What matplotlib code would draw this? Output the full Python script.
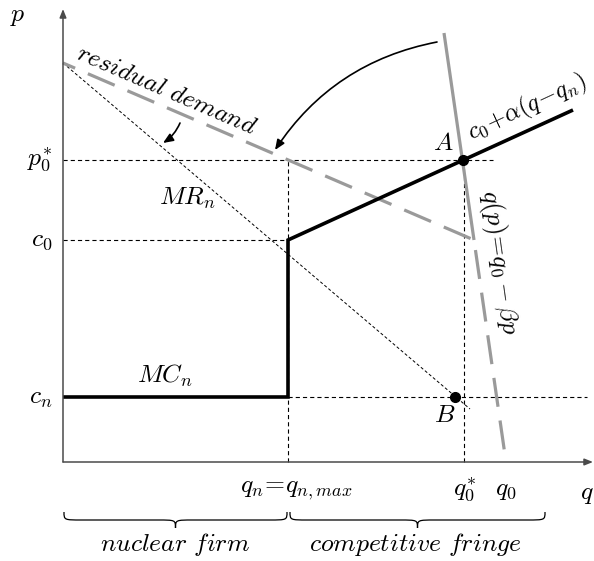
import matplotlib
matplotlib.use("Agg")
import matplotlib.pyplot as plt
from matplotlib.path import Path
from matplotlib.patches import PathPatch, FancyArrowPatch

plt.rcParams["mathtext.fontset"] = "cm"
plt.rcParams["font.family"] = ["DejaVu Serif"]
plt.rcParams["lines.scale_dashes"] = False

# key quantities (q on horizontal axis, p on vertical axis)
q_n = 2.25
q0_star = 4.01
q0 = 4.43
c_n = 0.65
c_0 = 2.22
p0_star = 3.02
p_max = 3.99

# curves
resid_q = [0, 4.11, 4.43]
resid_p = [p_max, 2.22, 0]
fringe_q = [3.81, 4.11]
fringe_p = [4.29, 2.22]
mr_q = [0, 4.07]
mr_p = [p_max, 0.53]
mc_q = [0, q_n, q_n, 5.10]
mc_p = [c_n, c_n, c_0, 3.52]
point_A = (4.00, p0_star)
point_B = (3.92, c_n)

GRAY = "#9a9a9a"
AXIS = "#4a4a4a"
FS = 18.5

fig = plt.figure(figsize=(5.94, 5.61), dpi=100)
ax = fig.add_axes([0, 0, 1, 1])
ax.set_xlim(-0.63, 5.31)
ax.set_ylim(-0.99, 4.62)
ax.axis("off")

# axes with arrows
for start, end in [((0, 0), (5.30, 0)), ((0, 0), (0, 4.53))]:
    ax.annotate("", xy=end, xytext=start,
                arrowprops=dict(arrowstyle="-|>,head_length=0.5,head_width=0.2",
                                color=AXIS, lw=1.1, shrinkA=0, shrinkB=0))

# thin dashed guide lines
guide = dict(color="black", lw=0.8, linestyle=(0, (3, 2.2)))
ax.plot([0, 4.30], [p0_star, p0_star], **guide)
ax.plot([0, q_n], [c_0, c_0], **guide)
ax.plot([q_n, 5.24], [c_n, c_n], **guide)
ax.plot([q_n, q_n], [0, p0_star], **guide)
ax.plot([q0_star, q0_star], [0, p0_star], **guide)

# marginal revenue
ax.plot(mr_q, mr_p, color="black", lw=0.7, linestyle=(0, (2.2, 1.6)))

# fringe supply (solid gray) and residual demand (dashed gray)
ax.plot(fringe_q, fringe_p, color=GRAY, lw=2.3, solid_capstyle="butt")
ax.plot(resid_q, resid_p, color=GRAY, lw=2.3, linestyle=(11.5, (21, 10)),
        dash_capstyle="butt")

# nuclear firm marginal cost
ax.plot(mc_q, mc_p, color="black", lw=2.6, solid_joinstyle="miter",
        solid_capstyle="butt")

# points
ax.plot(*point_A, "o", color="black", ms=7, zorder=5)
ax.plot(*point_B, "o", color="black", ms=7, zorder=5)

# curved arrows
ax.add_patch(FancyArrowPatch((3.74, 4.20), (2.12, 3.12),
                             connectionstyle="arc3,rad=0.21",
                             arrowstyle="-|>,head_length=6,head_width=2.5",
                             color="black", lw=1.2, shrinkA=0, shrinkB=0))
ax.add_patch(FancyArrowPatch((1.17, 3.39), (1.00, 3.19),
                             connectionstyle="arc3,rad=-0.15",
                             arrowstyle="-|>,head_length=6,head_width=2.5",
                             color="black", lw=1.2, shrinkA=0, shrinkB=0))

# labels
def label(x, y, s, **kw):
    kw.setdefault("ha", "center")
    kw.setdefault("va", "center")
    ax.text(x, y, s, fontsize=kw.pop("fs", FS), **kw)

label(-0.45, 4.47, r"$p$")
label(5.24, -0.31, r"$q$")
label(-0.11, p0_star, r"$p_0^{*}$", ha="right")
label(-0.11, c_0, r"$c_0$", ha="right")
label(-0.11, c_n, r"$c_n$", ha="right")
label(q_n + 0.08, -0.28, r"$q_n\!=\!q_{n,max}$")
label(q0_star, -0.28, r"$q_0^{*}$")
label(q0, -0.28, r"$q_0$")
label(1.24, 2.64, r"$MR_n$")
label(1.02, 0.86, r"$MC_n$")
label(3.80, 3.19, r"$A$")
label(3.82, 0.47, r"$B$")
label(1.04, 3.72, r"$residual\ demand$", rotation=-23.3, rotation_mode="anchor")
label(4.64, 3.54, r"$c_0\!+\!\alpha(q\!-\!q_n)$", rotation=25,
      rotation_mode="anchor", fs=17.5)
label(4.37, 2.00, r"$q(p)\!=\!q_0 - \beta p$", rotation=-82, rotation_mode="anchor")


def brace(x0, x1, y, h):
    xm = (x0 + x1) / 2
    r = 0.18
    yh = y - h / 2
    verts = [(x0, y), (x0, yh), (x0, yh), (x0 + r, yh),
             (xm - r, yh), (xm, yh), (xm, yh), (xm, y - h),
             (xm, yh), (xm, yh), (xm + r, yh),
             (x1 - r, yh), (x1, yh), (x1, yh), (x1, y)]
    codes = [Path.MOVETO, Path.CURVE4, Path.CURVE4, Path.CURVE4,
             Path.LINETO, Path.CURVE4, Path.CURVE4, Path.CURVE4,
             Path.CURVE4, Path.CURVE4, Path.CURVE4,
             Path.LINETO, Path.CURVE4, Path.CURVE4, Path.CURVE4]
    ax.add_patch(PathPatch(Path(verts, codes), fill=False, lw=0.9, color="black"))


brace(0.01, 2.24, -0.50, 0.16)
brace(2.27, 4.82, -0.50, 0.16)
label(1.12, -0.83, r"$nuclear\ firm$")
label(3.52, -0.83, r"$competitive\ fringe$")

fig.savefig("out.png", dpi=100)
